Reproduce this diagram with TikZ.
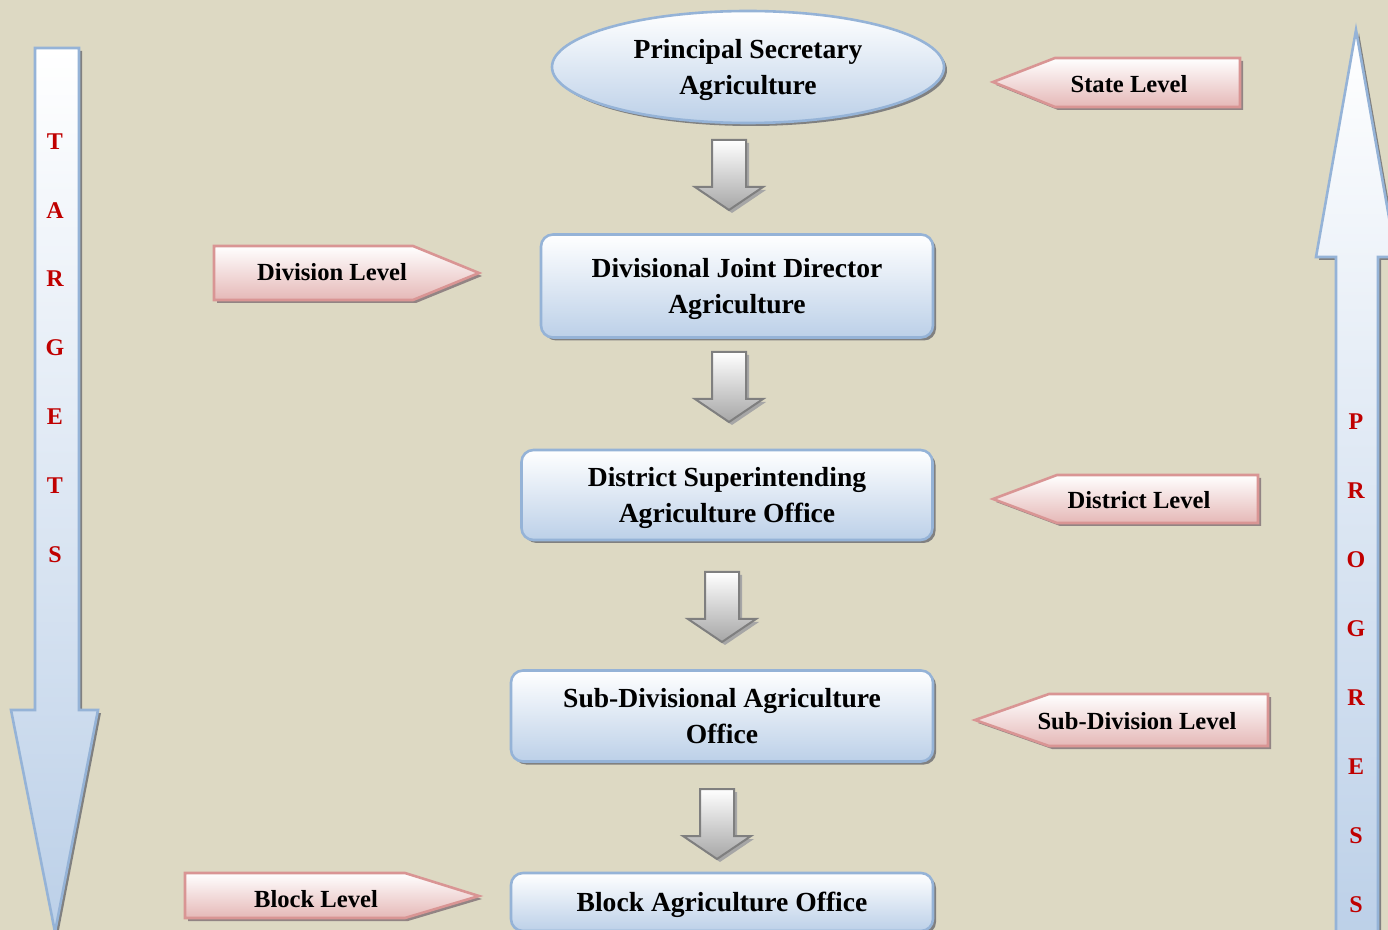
\documentclass[tikz,border=0pt]{standalone}
\usepackage{fontspec}
\setmainfont{Liberation Serif}
\usepackage{xcolor}
\usepackage{tikz}
\usetikzlibrary{shapes.geometric, shadows, positioning}
\definecolor{paper}{RGB}{221, 217, 195}
\definecolor{boxline}{RGB}{149, 179, 215}
\definecolor{boxfill}{RGB}{188, 208, 232}
\definecolor{tagline}{RGB}{217, 149, 148}
\definecolor{tagfill}{RGB}{229, 184, 183}
\definecolor{arrline}{RGB}{127, 127, 127}
\definecolor{arrfill}{RGB}{166, 166, 166}
\definecolor{shade}{RGB}{128, 128, 128}
\definecolor{letter}{RGB}{192, 0, 0}

\begin{document}
\begin{tikzpicture}[
    x=0.5pt, y=-0.5pt,
    level/.style={rectangle, draw=boxline, line width=1.3pt, rounded corners=6pt,
                  top color=white, bottom color=boxfill, align=center, inner sep=0pt,
                  text depth=0pt, font=\bfseries\fontsize{13.8}{18}\selectfont,
                  drop shadow={shadow xshift=1.5pt, shadow yshift=-1.5pt, fill=shade, opacity=1}},
    tag/.style={draw=tagline, line width=1.3pt, top color=white, bottom color=tagfill,
                drop shadow={shadow xshift=1.5pt, shadow yshift=-1.5pt, fill=shade!80!tagline, opacity=1}},
    tagtext/.style={font=\bfseries\fontsize{12.3}{14}\selectfont, inner sep=0pt},
    downarrow/.style={draw=arrline, line width=1pt, top color=white, bottom color=arrfill,
                      drop shadow={shadow xshift=1.5pt, shadow yshift=-1.5pt, fill=shade!70, opacity=1}},
    bigarrow/.style={draw=boxline, line width=1.3pt, top color=white, bottom color=boxfill,
                     drop shadow={shadow xshift=1.5pt, shadow yshift=-1.5pt, fill=shade, opacity=1}},
    vletter/.style={font=\bfseries\fontsize{12}{14}\selectfont, text=letter, inner sep=0pt}
]
\useasboundingbox (0,0) rectangle (1388,930);
\fill[paper] (0,0) rectangle (1388,930);
\clip (0,0) rectangle (1388,930);

% Side arrows
\draw[bigarrow] (35,48) -- (79,48) -- (79,710) -- (98,710) -- (55,932) -- (11,710) -- (35,710) -- cycle;
\draw[bigarrow] (1356,30) -- (1396,257) -- (1378,257) -- (1378,940) -- (1336,940) -- (1336,257) -- (1316,257) -- cycle;

\foreach \l/\y [count=\i] in {T/142, A/211, R/279, G/348, E/417, T/486, S/555}
    \node[vletter] (t\i) at (55,\y) {\l};
\foreach \l/\y [count=\i] in {P/422, R/491, O/560, G/629, R/698, E/767, S/836, S/905}
    \node[vletter] (p\i) at (1356,\y) {\l};

% Offices
\node[level, ellipse, minimum width=196pt, minimum height=56pt] (psa) at (748,67) {Principal Secretary\\Agriculture};
\node[level, minimum width=196pt, minimum height=51.5pt] (djd) at (737,286) {Divisional Joint Director\\Agriculture};
\node[level, minimum width=205.5pt, minimum height=45pt] (dsao) at (727,495) {District Superintending\\Agriculture Office};
\node[level, minimum width=211pt, minimum height=45.5pt] (sdao) at (722,716) {Sub-Divisional Agriculture\\Office};
\node[level, minimum width=211pt, minimum height=29pt] (bao) at (722,902) {Block Agriculture Office};

% Arrows between levels
\foreach \x/\y in {729/140, 729/352, 722/572, 717/789}
    \draw[downarrow] (\x-17,\y) -- (\x+17,\y) -- (\x+17,\y+47) -- (\x+34,\y+47)
        -- (\x,\y+70) -- (\x-34,\y+47) -- (\x-17,\y+47) -- cycle;

% Level tags
\draw[tag] (993,82) -- (1055,58) -- (1240,58) -- (1240,107) -- (1055,107) -- cycle;
\node[tagtext] (state) at (1129,84) {State Level};

\draw[tag] (214,246) -- (413,246) -- (479,273) -- (413,300) -- (214,300) -- cycle;
\node[tagtext] (division) at (332,272) {Division Level};

\draw[tag] (993,499) -- (1057,475) -- (1258,475) -- (1258,523) -- (1057,523) -- cycle;
\node[tagtext] (district) at (1139,500) {District Level};

\draw[tag] (975,720) -- (1049,694) -- (1268,694) -- (1268,746) -- (1049,746) -- cycle;
\node[tagtext] (subdivision) at (1137,721) {Sub-Division Level};

\draw[tag] (185,873) -- (405,873) -- (479,896) -- (405,918) -- (185,918) -- cycle;
\node[tagtext] (block) at (316,899) {Block Level};

\end{tikzpicture}
\end{document}
